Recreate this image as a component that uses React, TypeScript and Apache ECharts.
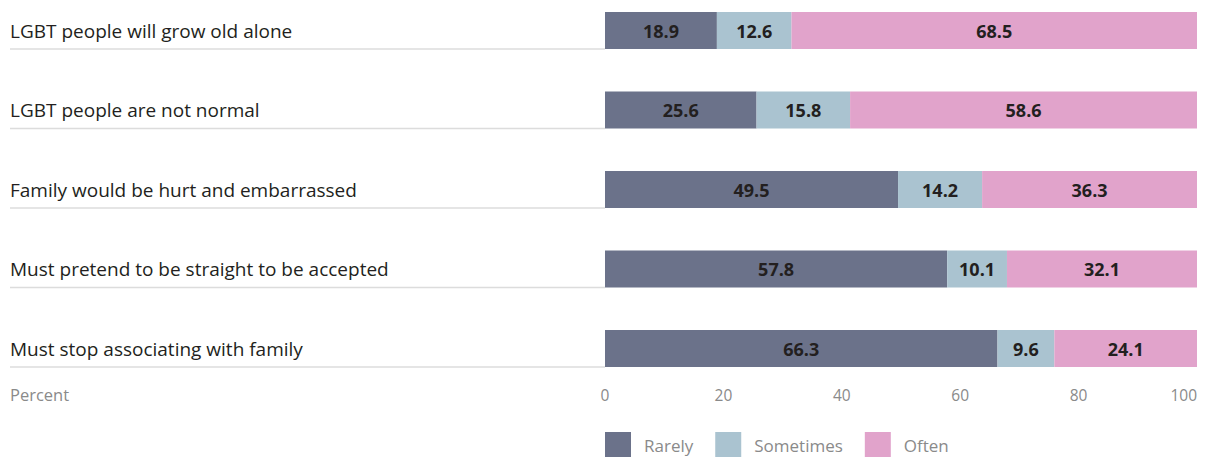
import React, { useEffect, useRef } from "react";
import * as echarts from "echarts";

const categories = [
  "LGBT people will grow old alone",
  "LGBT people are not normal",
  "Family would be hurt and embarrassed",
  "Must pretend to be straight to be accepted",
  "Must stop associating with family",
];
const rarely = [18.9, 25.6, 49.5, 57.8, 66.3];
const sometimes = [12.6, 15.8, 14.2, 10.1, 9.6];
const often = [68.5, 58.6, 36.3, 32.1, 24.1];
const seriesNames = ["Rarely", "Sometimes", "Often"];
const colors = ["#6b728a", "#aac3d0", "#e1a3cb"];

const FONT = "'Open Sans', sans-serif";

export default function App() {
  const ref = useRef<HTMLDivElement>(null);
  useEffect(() => {
    if (!ref.current) return;
    const chart = echarts.init(ref.current, undefined, { renderer: "svg" });
    const barWidth = 37;
    const data = [rarely, sometimes, often];
    const option: any = {
      animation: false,
      textStyle: { fontFamily: FONT },
      title: {
        text: "Percent",
        left: 10,
        top: 386,
        padding: 0,
        textStyle: { fontFamily: FONT, fontSize: 16.5, color: "#8a8a8a", fontWeight: "normal" },
      },
      legend: {
        left: 605,
        top: 432,
        padding: 0,
        itemWidth: 26,
        itemHeight: 26,
        itemGap: 22,
        icon: "rect",
        textStyle: { fontFamily: FONT, fontSize: 17, color: "#8a8a8a", padding: [0, 0, 0, 8] },
        data: seriesNames,
      },
      grid: { left: 605, right: 10, top: 30.5, height: 318 },
      xAxis: {
        type: "value",
        min: 0,
        max: 100,
        interval: 20,
        axisLine: { show: false },
        axisTick: { show: false },
        splitLine: { show: false },
        axisLabel: {
          fontFamily: FONT,
          fontSize: 15.5,
          color: "#8a8a8a",
          margin: 38,
          alignMaxLabel: "right",
          alignMinLabel: "center",
        },
      },
      yAxis: {
        type: "category",
        inverse: true,
        boundaryGap: false,
        data: categories,
        axisLine: { show: false },
        axisTick: { show: false },
        axisLabel: {
          align: "left",
          margin: 595,
          fontFamily: FONT,
          fontSize: 19,
          color: "#231f20",
          padding: [3, 0, 0, 0],
        },
      },
      series: seriesNames.map((name, i) => ({
        name,
        type: "bar",
        stack: "total",
        barWidth,
        clip: false,
        data: data[i],
        itemStyle: { color: colors[i] },
        label: {
          show: true,
          position: "inside",
          fontFamily: FONT,
          fontWeight: "bold",
          fontSize: 18,
          color: "#231f20",
          formatter: (p: any) => Number(p.value).toFixed(1),
        },
      })),
    };
    chart.setOption(option);
    const lines = categories.map((c) => {
      const y = chart.convertToPixel({ yAxisIndex: 0 }, c) as number;
      const x0 = chart.convertToPixel({ xAxisIndex: 0 }, 0) as number;
      return {
        type: "line",
        shape: { x1: 10, y1: y + barWidth / 2, x2: x0, y2: y + barWidth / 2 },
        style: { stroke: "#dcdcdc", lineWidth: 1.5 },
        silent: true,
      };
    });
    chart.setOption({ graphic: lines });
    return () => chart.dispose();
  }, []);
  return (
    <div
      ref={ref}
      style={{ position: "fixed", left: 0, top: 0, width: 1207, height: 457, background: "#fff" }}
    />
  );
}
